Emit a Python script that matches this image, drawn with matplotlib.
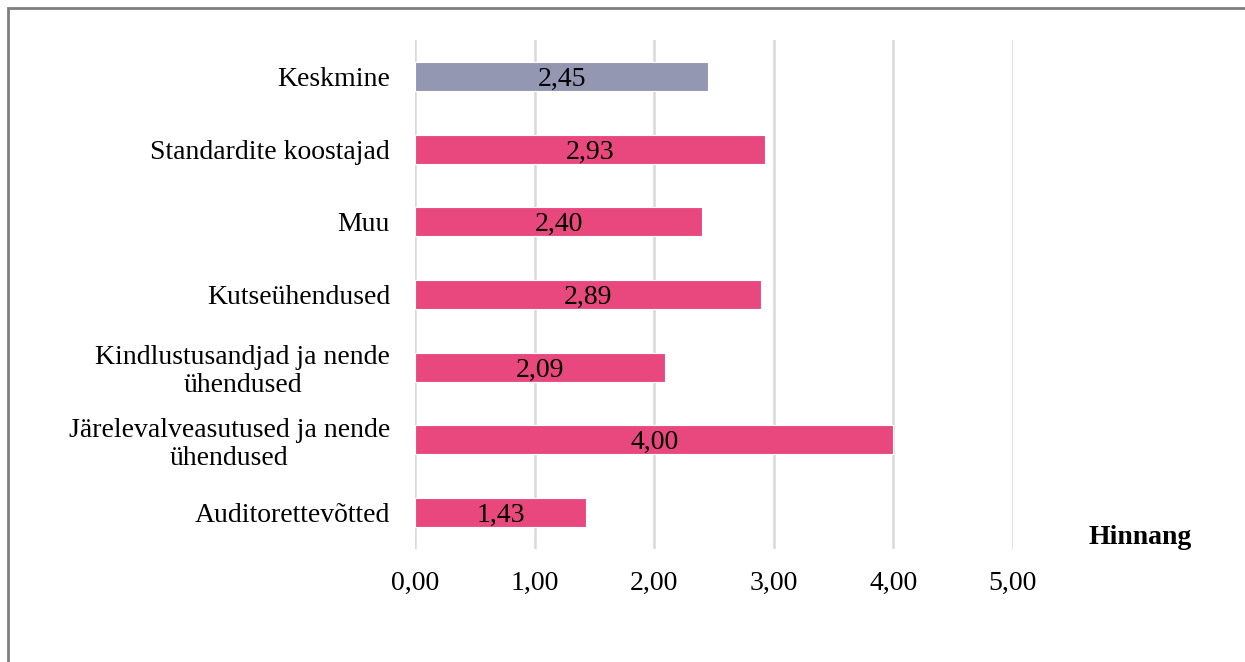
import matplotlib
matplotlib.use("Agg")
import matplotlib.pyplot as plt
from matplotlib.patches import Rectangle

categories = [
    "Keskmine",
    "Standardite koostajad",
    "Muu",
    "Kutseühendused",
    "Kindlustusandjad ja nende\nühendused",
    "Järelevalveasutused ja nende\nühendused",
    "Auditorettevõtted",
]
values = [2.45, 2.93, 2.40, 2.89, 2.09, 4.00, 1.43]
bar_colors = ["#9497B2", "#E8487E", "#E8487E", "#E8487E", "#E8487E", "#E8487E", "#E8487E"]
x_ticks = [0, 1, 2, 3, 4, 5]
x_tick_labels = ["0,00", "1,00", "2,00", "3,00", "4,00", "5,00"]
axis_title = "Hinnang"

plt.rcParams["font.family"] = ["Liberation Serif", "DejaVu Serif"]
FS = 20

W, H = 1245, 662
fig = plt.figure(figsize=(W / 100, H / 100), dpi=100)
fig.patch.set_facecolor("white")

# plot area in pixel coordinates
left, right, top, bottom = 415, 1013, 40, 549
ax = fig.add_axes([left / W, 1 - bottom / H, (right - left) / W, (bottom - top) / H])

positions = list(range(len(categories)))
ax.barh(positions, values, height=0.4, color=bar_colors, edgecolor="white",
        linewidth=0.8, zorder=3)

for y, v in zip(positions, values):
    ax.text(v / 2, y + 0.04, f"{v:.2f}".replace(".", ","), ha="center", va="center",
            fontsize=FS, color="black", zorder=4)

ax.set_ylim(len(categories) - 0.5, -0.5)
ax.set_xlim(0, 5)
ax.set_yticks(positions)
ax.set_yticklabels(categories, fontsize=FS, linespacing=1.15, multialignment="center")
ax.set_xticks(x_ticks)
ax.set_xticklabels(x_tick_labels, fontsize=FS)
ax.tick_params(axis="both", length=0)
ax.tick_params(axis="y", pad=18)
ax.tick_params(axis="x", pad=16)
ax.grid(axis="x", color="#D9D9D9", linewidth=1.8, zorder=0)
for s in ax.spines.values():
    s.set_visible(False)

fig.text(1140 / W, 1 - 538 / H, axis_title, ha="center", va="center",
         fontsize=FS, fontweight="bold")

# outer frame
fig.patches.append(Rectangle((8 / W, -0.1), 1.2, 1 - 8 / H + 0.1,
                             transform=fig.transFigure, fill=False,
                             edgecolor="#7F7F7F", linewidth=2))

fig.savefig("out.png", dpi=100)
